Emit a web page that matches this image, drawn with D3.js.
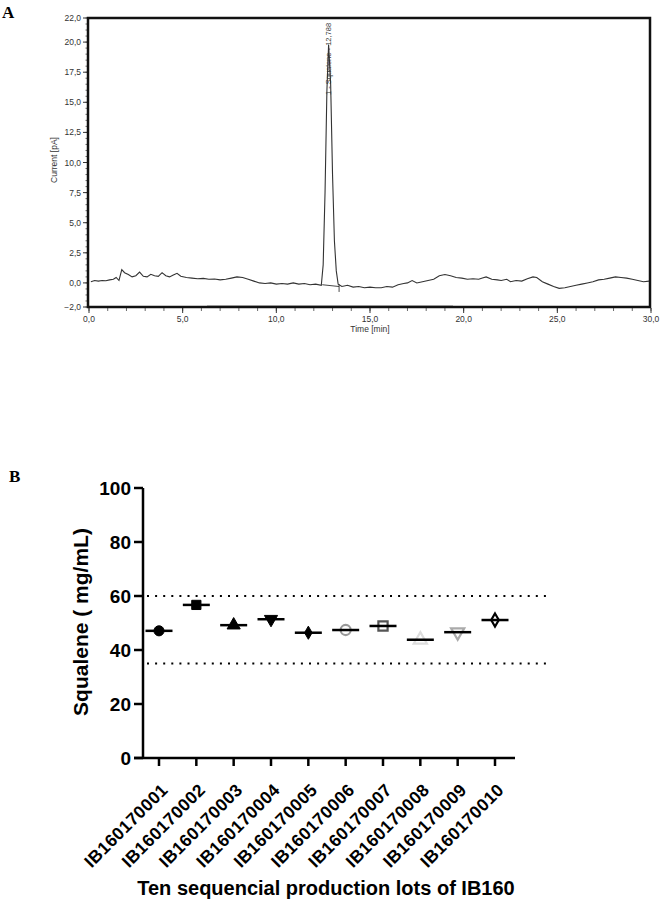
<!DOCTYPE html>
<html>
<head>
<meta charset="utf-8">
<script src="https://cdn.jsdelivr.net/npm/d3@7/dist/d3.min.js"></script>
<style>
  body { margin: 0; background: #fff; }
  svg { display: block; }
</style>
</head>
<body>
<div id="chart"></div>
<script>
// ---- 数据 A：色谱图 ----
var traceTime = [0.1, 0.3, 0.5, 0.7, 0.9, 1.1, 1.3, 1.45, 1.6, 1.75, 1.9, 2.1, 2.3, 2.5, 2.7, 2.9, 3.1, 3.3, 3.5, 3.7,
  3.9, 4.1, 4.3, 4.5, 4.7, 4.9, 5.2, 5.5, 5.8, 6.1, 6.4, 6.7, 7.0, 7.3, 7.6, 7.9, 8.2, 8.5, 8.8, 9.1,
  9.4, 9.7, 10.0, 10.3, 10.6, 10.9, 11.2, 11.5, 11.8, 12.1, 12.4, 12.5, 12.6, 12.7, 12.79, 12.9, 13.0, 13.1, 13.2, 13.3,
  13.5, 13.8, 14.1, 14.4, 14.7, 15.0, 15.3, 15.6, 15.9, 16.2, 16.5, 16.8, 17.0, 17.25, 17.5, 17.8, 18.1, 18.4, 18.7, 19.0,
  19.3, 19.6, 19.9, 20.2, 20.5, 20.8, 21.0, 21.2, 21.5, 21.8, 22.0, 22.3, 22.5, 22.8, 23.1, 23.4, 23.7, 23.9, 24.2, 24.5,
  24.8, 25.1, 25.4, 25.7, 26.0, 26.3, 26.6, 26.9, 27.2, 27.5, 27.8, 28.1, 28.4, 28.7, 29.0, 29.3, 29.6, 29.9];
var traceCurrent = [0.1, 0.2, 0.15, 0.2, 0.18, 0.25, 0.3, 0.45, 0.2, 1.1, 0.85, 0.7, 0.5, 0.6, 0.9, 0.55, 0.5, 0.72, 0.6, 0.55,
  0.85, 0.6, 0.5, 0.65, 0.8, 0.55, 0.45, 0.4, 0.35, 0.38, 0.3, 0.32, 0.25, 0.3, 0.4, 0.5, 0.45, 0.3, 0.15, 0.0,
  -0.05, 0.0, -0.1, -0.05, -0.1, 0.0, -0.1, -0.05, -0.15, -0.1, -0.2, 1.5, 7.5, 16.0, 19.8, 16.5, 9.0, 3.5, 1.0, -0.1,
  -0.3, -0.2, -0.35, -0.3, -0.4, -0.35, -0.4, -0.4, -0.3, -0.35, -0.15, -0.05, 0.0, 0.2, 0.0, 0.1, 0.2, 0.3, 0.6, 0.7,
  0.6, 0.45, 0.4, 0.3, 0.35, 0.3, 0.4, 0.5, 0.3, 0.25, 0.2, 0.3, 0.1, 0.2, 0.15, 0.35, 0.5, 0.45, 0.1, -0.1,
  -0.3, -0.45, -0.4, -0.3, -0.2, -0.1, 0.0, 0.1, 0.25, 0.3, 0.4, 0.5, 0.45, 0.4, 0.3, 0.2, 0.1, 0.15];
var peakTime = 12.788;
var peakLabel = '1 - Squalene - 12,788';
var aYTicks = [22, 20, 17.5, 15, 12.5, 10, 7.5, 5, 2.5, 0, -2];
var aXTicks = [0, 5, 10, 15, 20, 25, 30];

// ---- 数据 B：十批角鲨烯含量 ----
var lots = ['IB160170001', 'IB160170002', 'IB160170003', 'IB160170004', 'IB160170005',
  'IB160170006', 'IB160170007', 'IB160170008', 'IB160170009', 'IB160170010'];
var squalene = [47.1, 56.7, 49.2, 51.4, 46.4, 47.4, 48.9, 43.8, 46.6, 51.1];
var limits = [60, 35];
var bYTicks = [0, 20, 40, 60, 80, 100];
var markerShape = ['circle', 'square', 'triangle', 'triangleDown', 'diamond',
  'circle', 'square', 'triangle', 'triangleDown', 'diamond'];
var markerFill = ['#000', '#000', '#000', '#000', '#000', 'none', 'none', 'none', 'none', 'none'];
var markerStroke = ['#000', '#000', '#000', '#000', '#000', '#999', '#555', '#ddd', '#aaa', '#000'];

var svg = d3.select('#chart').append('svg').attr('width', 661).attr('height', 905);

// ================= A =================
var ax = d3.scaleLinear().domain([0, 30]).range([89, 651]);
var ay = d3.scaleLinear().domain([-2, 22]).range([307, 18]);

svg.append('text').text('A').attr('x', 2).attr('y', 18)
  .style('font-family', 'Liberation Serif, Times New Roman, serif').style('font-weight', 'bold').style('font-size', '17px');

// 小刻度
var aMinorY = d3.range(-2, 22.01, 0.5);
svg.selectAll('.aMinorY').data(aMinorY).enter().append('line')
  .attr('x1', 85.5).attr('x2', 88).attr('y1', function (d) { return ay(d); }).attr('y2', function (d) { return ay(d); })
  .style('stroke', '#444').style('stroke-width', 0.8);
svg.selectAll('.aMajorY').data(aYTicks).enter().append('line')
  .attr('x1', 83).attr('x2', 88).attr('y1', function (d) { return ay(d); }).attr('y2', function (d) { return ay(d); })
  .style('stroke', '#333').style('stroke-width', 1);
svg.selectAll('.aYLab').data(aYTicks).enter().append('text')
  .text(function (d) { return d3.format('.1f')(d).replace('.', ','); })
  .attr('x', 81).attr('y', function (d) { return ay(d) + 3; })
  .attr('text-anchor', 'end')
  .style('font-family', 'Liberation Sans, Arial, sans-serif').style('font-size', '8.5px').style('fill', '#333');

var aMinorX = d3.range(0, 30.01, 1);
svg.selectAll('.aMinorX').data(aMinorX).enter().append('line')
  .attr('x1', function (d) { return ax(d); }).attr('x2', function (d) { return ax(d); })
  .attr('y1', 308).attr('y2', 311)
  .style('stroke', '#444').style('stroke-width', 0.8);
svg.selectAll('.aMajorX').data(aXTicks).enter().append('line')
  .attr('x1', function (d) { return ax(d); }).attr('x2', function (d) { return ax(d); })
  .attr('y1', 308).attr('y2', 313)
  .style('stroke', '#333').style('stroke-width', 1);
svg.selectAll('.aXLab').data(aXTicks).enter().append('text')
  .text(function (d) { return d3.format('.1f')(d).replace('.', ','); })
  .attr('x', function (d) { return ax(d); }).attr('y', 322)
  .attr('text-anchor', 'middle')
  .style('font-family', 'Liberation Sans, Arial, sans-serif').style('font-size', '8.5px').style('fill', '#333');

// 边框
svg.append('rect').attr('x', 88).attr('y', 18).attr('width', 562).attr('height', 289)
  .style('fill', 'none').style('stroke', '#111').style('stroke-width', 2.5);
svg.append('line').attr('x1', 207).attr('y1', 305.5).attr('x2', 453).attr('y2', 305.5)
  .style('stroke', '#999').style('stroke-width', 1.2);

// 轴标题
svg.append('text').text('Time [min]').attr('x', 370).attr('y', 332).attr('text-anchor', 'middle')
  .style('font-family', 'Liberation Sans, Arial, sans-serif').style('font-size', '8.5px').style('fill', '#333');
svg.append('text').text('Current [pA]').attr('transform', 'translate(57,160) rotate(-90)').attr('text-anchor', 'middle')
  .style('font-family', 'Liberation Sans, Arial, sans-serif').style('font-size', '8.5px').style('fill', '#333');

// 曲线
var tracePts = traceTime.map(function (t, i) { return [t, traceCurrent[i]]; });
var traceLine = d3.line().x(function (d) { return ax(d[0]); }).y(function (d) { return ay(d[1]); });
svg.append('path').datum(tracePts).attr('d', traceLine)
  .style('fill', 'none').style('stroke', '#333').style('stroke-width', 1.1);

// 积分基线 + 标记
svg.append('line').attr('x1', ax(12.45)).attr('y1', ay(-0.15)).attr('x2', ax(13.35)).attr('y2', ay(-0.3))
  .style('stroke', '#333').style('stroke-width', 0.9);
svg.append('line').attr('x1', ax(13.35)).attr('y1', ay(-0.1)).attr('x2', ax(13.35)).attr('y2', ay(-0.75))
  .style('stroke', '#333').style('stroke-width', 0.9);
svg.append('text').text(peakLabel)
  .attr('transform', 'translate(' + (ax(peakTime) + 2.5) + ',' + ay(15.6) + ') rotate(-90)')
  .style('font-family', 'Liberation Sans, Arial, sans-serif').style('font-size', '7.5px').style('fill', '#333');

// ================= B =================
var bx = d3.scalePoint().domain(lots).range([159, 495]);
var by = d3.scaleLinear().domain([0, 100]).range([758, 488]);
var bFont = 'Liberation Sans, Arial, Helvetica, sans-serif';

svg.append('text').text('B').attr('x', 9).attr('y', 482)
  .style('font-family', 'Liberation Serif, Times New Roman, serif').style('font-weight', 'bold').style('font-size', '17px');

// 限值虚线
svg.selectAll('.limit').data(limits).enter().append('line')
  .attr('x1', 147).attr('x2', 546).attr('y1', function (d) { return by(d); }).attr('y2', function (d) { return by(d); })
  .style('stroke', '#000').style('stroke-width', 2).style('stroke-dasharray', '2,6.1');

// 轴线
svg.append('line').attr('x1', 143).attr('y1', by(100)).attr('x2', 143).attr('y2', by(0) + 1)
  .style('stroke', '#000').style('stroke-width', 2.5);
svg.append('line').attr('x1', 134).attr('y1', by(0)).attr('x2', 515).attr('y2', by(0))
  .style('stroke', '#000').style('stroke-width', 2.5);
svg.selectAll('.bYTick').data(bYTicks).enter().append('line')
  .attr('x1', 134).attr('x2', 143).attr('y1', function (d) { return by(d); }).attr('y2', function (d) { return by(d); })
  .style('stroke', '#000').style('stroke-width', 2.5);
svg.selectAll('.bYLab').data(bYTicks).enter().append('text')
  .text(function (d) { return d; })
  .attr('x', 131).attr('y', function (d) { return by(d) + 7; })
  .attr('text-anchor', 'end')
  .style('font-family', bFont).style('font-weight', 'bold').style('font-size', '19px');
svg.selectAll('.bXTick').data(lots).enter().append('line')
  .attr('x1', function (d) { return bx(d); }).attr('x2', function (d) { return bx(d); })
  .attr('y1', by(0)).attr('y2', by(0) + 8)
  .style('stroke', '#000').style('stroke-width', 2.5);
svg.selectAll('.bXLab').data(lots).enter().append('text')
  .text(function (d) { return d; })
  .attr('transform', function (d) { return 'translate(' + (bx(d) + 10) + ',' + (by(0) + 33) + ') rotate(-45)'; })
  .attr('text-anchor', 'end')
  .style('font-family', bFont).style('font-weight', 'bold').style('font-size', '17.5px').style('letter-spacing', '0.4px');

// 轴标题
svg.append('text').text('Ten sequencial production lots of IB160').attr('x', 326).attr('y', 895).attr('text-anchor', 'middle')
  .style('font-family', bFont).style('font-weight', 'bold').style('font-size', '20px');
svg.append('text').text('Squalene ( mg/mL)').attr('transform', 'translate(88,622) rotate(-90)').attr('text-anchor', 'middle')
  .style('font-family', bFont).style('font-weight', 'bold').style('font-size', '21px');

// 数据点
var symbolOf = {
  circle: d3.symbolCircle, square: d3.symbolSquare, triangle: d3.symbolTriangle,
  triangleDown: d3.symbolTriangle, diamond: d3.symbolDiamond
};
var symbolSize = { circle: 80, square: 85, triangle: 75, triangleDown: 75, diamond: 50 };
svg.selectAll('.pt').data(lots).enter().append('path')
  .attr('d', function (d, i) { return d3.symbol().type(symbolOf[markerShape[i]]).size(symbolSize[markerShape[i]])(); })
  .attr('transform', function (d, i) {
    return 'translate(' + bx(d) + ',' + by(squalene[i]) + ')' + (markerShape[i] === 'triangleDown' ? ' rotate(180)' : '');
  })
  .style('fill', function (d, i) { return markerFill[i]; })
  .style('stroke', function (d, i) { return markerStroke[i]; })
  .style('stroke-width', function (d, i) { return markerFill[i] === 'none' ? 2.2 : 1; });

// 均值线
svg.selectAll('.mean').data(lots).enter().append('line')
  .attr('x1', function (d) { return bx(d) - 13.5; }).attr('x2', function (d) { return bx(d) + 13.5; })
  .attr('y1', function (d, i) { return by(squalene[i]); }).attr('y2', function (d, i) { return by(squalene[i]); })
  .style('stroke', '#000').style('stroke-width', 2.5);
</script>
</body>
</html>
